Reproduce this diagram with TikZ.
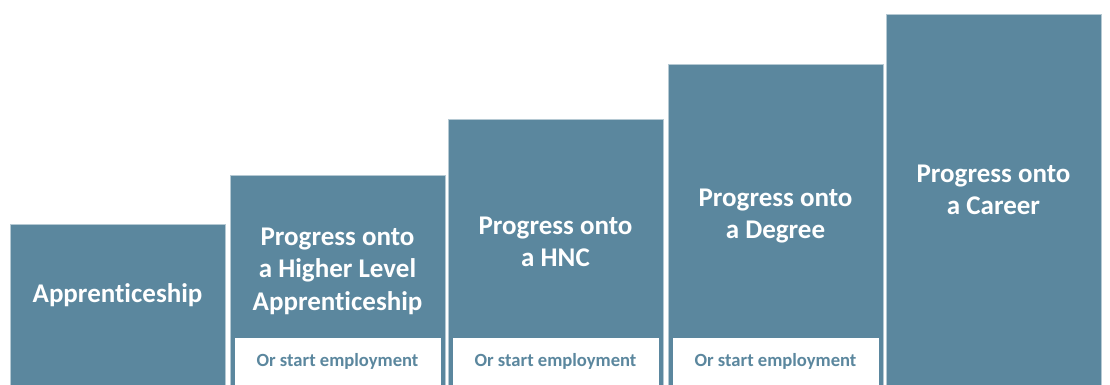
\documentclass[tikz,border=0pt]{standalone}
\usepackage{fontspec}
\setmainfont{Carlito}[Ligatures=NoCommon]
\usetikzlibrary{positioning}
\definecolor{stairblue}{RGB}{91,135,158}
\tikzset{
		stair/.style={fill=stairblue, draw=stairblue!45!white, line width=.6pt,
			inner sep=0pt, outer sep=0pt, anchor=south west, minimum width=215pt},
		stairtext/.style={text=white, align=center, inner sep=0pt,
			font=\bfseries\fontsize{27}{32.5}\selectfont},
		employ/.style={fill=white, text=stairblue, anchor=south, inner sep=0pt,
			minimum width=206pt, minimum height=47pt, font=\bfseries\fontsize{18.6}{20}\selectfont}
	}

\begin{document}
\begin{tikzpicture}[x=1pt, y=1pt] % (one unit = one pixel of the reference)
		\useasboundingbox (0,0) rectangle (1110,385);
		% the five steps, left to right
		\foreach \i/\x/\h in {1/10/161, 2/230/210, 3/448/266, 4/668/321, 5/886/371}{
			\node[stair, minimum height=\h pt] (stair\i) at (\x,0) {};
		}
		\node[stairtext] (label1) at (stair1.center |- 0,90) {Apprenticeship};
		\node[stairtext] (label2) at (stair2.center |- 0,114) {Progress onto\\a Higher Level\\Apprenticeship};
		\node[stairtext] (label3) at (stair3.center |- 0,143) {Progress onto\\a HNC};
		\node[stairtext] (label4) at (stair4.center |- 0,169) {Progress onto\\a Degree};
		\node[stairtext] (label5) at (stair5.center |- 0,195) {Progress onto\\a Career};
		% white boxes at the foot of the middle steps
		\foreach \i in {2,3,4}{
			\node[employ] (employ\i) at (stair\i.south) {Or start employment};
		}
	\end{tikzpicture}
\end{document}
